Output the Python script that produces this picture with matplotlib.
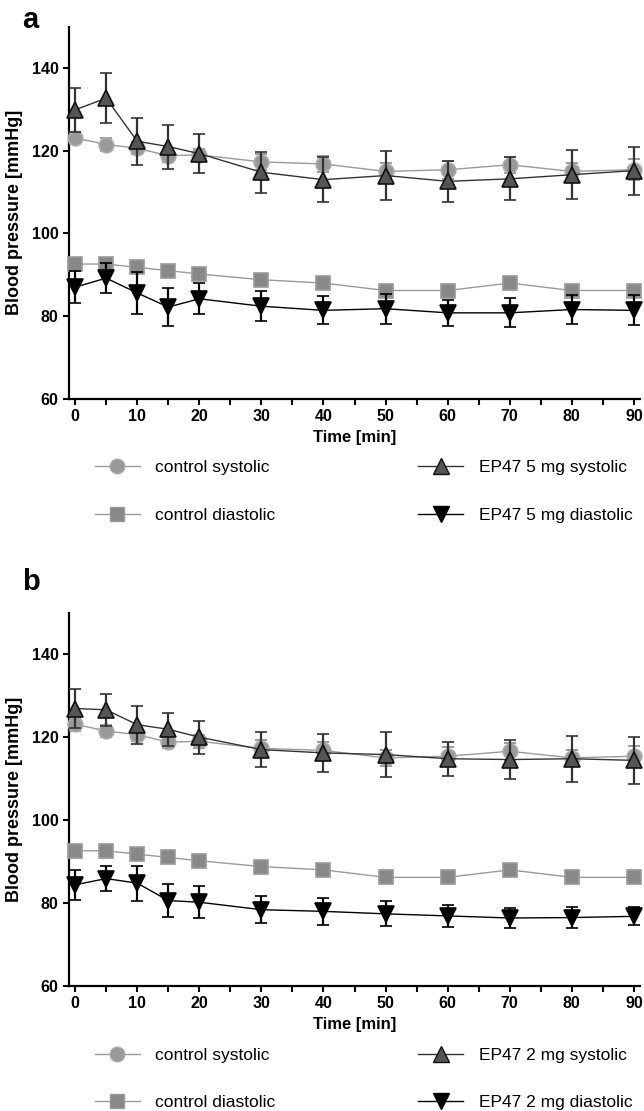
import matplotlib
matplotlib.use("Agg")
import matplotlib.pyplot as plt
from matplotlib.lines import Line2D

plt.rcParams["font.family"] = ["Liberation Sans", "DejaVu Sans"]

TIME = [0, 5, 10, 15, 20, 30, 40, 50, 60, 70, 80, 90]

CTRL_SYS = [123.1, 121.5, 120.6, 118.8, 119.0, 117.3, 116.8, 115.0, 115.4, 116.6, 115.0, 115.4]
CTRL_SYS_SD = [1.5, 1.5, 1.5, 1.5, 1.5, 2.0, 2.0, 2.0, 2.2, 2.0, 2.0, 2.5]
CTRL_DIA = [92.6, 92.6, 91.8, 91.0, 90.2, 88.8, 88.0, 86.2, 86.2, 88.0, 86.2, 86.2]
CTRL_DIA_SD = [1.2, 1.2, 1.2, 1.2, 1.2, 1.2, 1.2, 1.2, 1.2, 1.2, 1.2, 1.2]

# panel a: EP47 5 mg
EP5_SYS = [129.9, 132.7, 122.3, 121.0, 119.3, 114.8, 113.0, 114.0, 112.6, 113.2, 114.2, 115.2]
EP5_SYS_SD = [5.3, 6.1, 5.7, 5.3, 4.8, 5.0, 5.5, 5.9, 5.0, 5.2, 5.9, 5.8]
EP5_DIA = [87.0, 89.2, 85.6, 82.2, 84.2, 82.4, 81.4, 81.8, 80.8, 80.8, 81.6, 81.4]
EP5_DIA_SD = [3.9, 3.6, 5.0, 4.7, 3.8, 3.6, 3.4, 3.6, 3.2, 3.5, 3.6, 3.6]

# panel b: EP47 2 mg
EP2_SYS = [126.9, 126.6, 123.0, 121.9, 120.0, 117.0, 116.2, 115.8, 114.8, 114.6, 114.8, 114.4]
EP2_SYS_SD = [4.8, 3.8, 4.6, 4.0, 4.0, 4.3, 4.5, 5.4, 4.1, 4.7, 5.5, 5.6]
EP2_DIA = [84.4, 85.9, 84.8, 80.6, 80.2, 78.4, 78.0, 77.4, 76.9, 76.4, 76.5, 76.8]
EP2_DIA_SD = [3.6, 3.0, 4.2, 4.0, 3.8, 3.2, 3.2, 3.0, 2.6, 2.3, 2.6, 2.2]

X_TICKS = [0, 10, 20, 30, 40, 50, 60, 70, 80, 90]
Y_TICKS = [60, 80, 100, 120, 140]


def series(ax, y, sd, marker, ms, face, edge, line, ecolor, z):
    ax.errorbar(TIME, y, yerr=sd, color=line, lw=1.0, marker=marker, ms=ms,
                mfc=face, mec=edge, mew=1.2, ecolor=ecolor, elinewidth=1.6,
                capsize=4.5, capthick=1.6, zorder=z, clip_on=False)


def panel(fig, rect, letter, letter_y, dose, sys, sys_sd, dia, dia_sd):
    ax = fig.add_axes(rect)
    series(ax, CTRL_SYS, CTRL_SYS_SD, "o", 10.5, "#999999", "#aaaaaa", "#9a9a9a", "#8a8a8a", 3)
    series(ax, CTRL_DIA, CTRL_DIA_SD, "s", 10, "#888888", "#9a9a9a", "#9a9a9a", "#8a8a8a", 3)
    series(ax, sys, sys_sd, "^", 11.5, "#555555", "#111111", "#333333", "#333333", 4)
    series(ax, dia, dia_sd, "v", 11.5, "#000000", "#000000", "#000000", "#000000", 4)

    ax.set_xlim(-1.0, 91)
    ax.set_ylim(60, 150)
    ax.set_xticks(X_TICKS)
    ax.set_xticks(range(5, 90, 10), minor=True)
    ax.set_yticks(Y_TICKS)
    for s in ("top", "right"):
        ax.spines[s].set_visible(False)
    for s in ("left", "bottom"):
        ax.spines[s].set_linewidth(1.6)
    ax.tick_params(which="both", direction="out", width=1.5, length=4, labelsize=11.5)
    for lab in ax.get_xticklabels() + ax.get_yticklabels():
        lab.set_fontweight("bold")
    ax.set_xlabel("Time [min]", fontsize=12, fontweight="bold", labelpad=4)
    ax.set_ylabel("Blood pressure [mmHg]", fontsize=13, fontweight="bold", labelpad=6)

    fig.text(0.034, letter_y, letter, fontsize=21, fontweight="bold", va="baseline")

    handles = [
        Line2D([], [], color="#9a9a9a", lw=1, marker="o", ms=10.5, mfc="#999999", mec="#aaaaaa"),
        Line2D([], [], color="#9a9a9a", lw=1, marker="s", ms=10, mfc="#888888", mec="#9a9a9a"),
        Line2D([], [], color="#333333", lw=1, marker="^", ms=11.5, mfc="#555555", mec="#111111"),
        Line2D([], [], color="#000000", lw=1, marker="v", ms=11.5, mfc="#000000", mec="#000000"),
    ]
    labels = ["control systolic", "control diastolic",
              f"EP47 {dose} mg systolic", f"EP47 {dose} mg diastolic"]
    ax.legend(handles, labels, ncol=2, frameon=False, fontsize=12.5,
              loc="upper left", bbox_to_anchor=(0.045, -0.165),
              handlelength=2.6, handletextpad=0.9, labelspacing=1.85,
              columnspacing=8.2, borderaxespad=0, borderpad=0)
    return ax


fig = plt.figure(figsize=(6.44, 11.11), dpi=100)
panel(fig, [0.107, 0.641, 0.887, 0.335], "a", 0.975, 5, EP5_SYS, EP5_SYS_SD, EP5_DIA, EP5_DIA_SD)
panel(fig, [0.107, 0.1125, 0.887, 0.336], "b", 0.469, 2, EP2_SYS, EP2_SYS_SD, EP2_DIA, EP2_DIA_SD)
fig.savefig("out.png", dpi=100)
